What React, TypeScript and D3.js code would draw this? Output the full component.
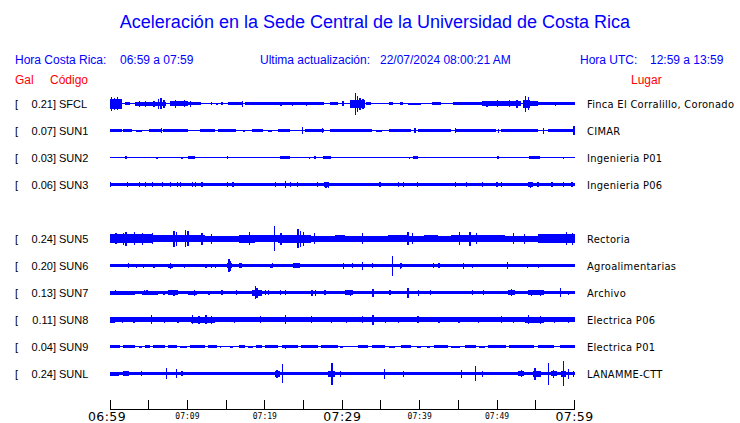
import React from "react";
import * as d3 from "d3";

const W = 740;
const H = 423;

const codes = ["SFCL", "SUN1", "SUN2", "SUN3", "SUN5", "SUN6", "SUN7", "SUN8", "SUN9", "SUNL"];
const gals = [0.21, 0.07, 0.03, 0.06, 0.24, 0.2, 0.13, 0.11, 0.04, 0.24];
const places = [
  "Finca El Corralillo, Coronado",
  "CIMAR",
  "Ingenieria P01",
  "Ingenieria P06",
  "Rectoria",
  "Agroalimentarias",
  "Archivo",
  "Electrica P06",
  "Electrica P01",
  "LANAMME-CTT",
];
const slots = [0, 1, 2, 3, 5, 6, 7, 8, 9, 10];

const tickMinutes = [0, 5, 10, 15, 20, 25, 30, 35, 40, 45, 50, 55, 60];
const tickLabels: Record<number, string> = {
  0: "06:59",
  10: "07:09",
  20: "07:19",
  30: "07:29",
  40: "07:39",
  50: "07:49",
  60: "07:59",
};
const bigTicks = [0, 30, 60];

// amplitude envelopes (relative units), minutes since 06:59
const baseAmp = [0.6, 0.6, 0.5, 1.5, 3.0, 1.5, 1.5, 2.2, 0.5, 1.6];

type Band = [number, number, number];
type Spike = [number, number];

const bandsSFCL: Band[] = [
  [0, 1.5, 5], [1.9, 2.6, 1.3], [3.2, 7.2, 2], [7.7, 10.1, 2.3], [10.1, 11.8, 1.3],
  [13.0, 13.2, 1.3], [13.7, 13.9, 1], [14.3, 14.6, 1.3], [15.3, 17.2, 1.6],
  [17.4, 27.7, 1.3], [28.4, 29.5, 1.3], [31.0, 33.0, 4], [33.1, 33.7, 1.3],
  [36.0, 36.6, 1.2], [37.4, 37.8, 1.2], [38.5, 40.2, 1.0], [41.6, 42.8, 1.3],
  [44.3, 48.0, 1.3], [48.0, 53.1, 2.3], [53.3, 54.2, 4], [54.2, 55.3, 2.5], [55.3, 60, 1.3],
];
const spikesSFCL: Spike[] = [
  [0.1, 7], [0.5, 6], [0.9, 6.5], [1.3, 5], [3.7, 3], [4.5, 3], [5.6, 3], [6.2, 5], [6.5, 5.5],
  [6.9, 4], [8.4, 4], [9.5, 3.5], [10.3, 3], [17.0, 3], [22, 2], [23.5, 2], [25.3, 2],
  [30.0, 2.5], [31.6, 11], [31.9, 8], [32.2, 6], [32.6, 5], [48.6, 3], [50.0, 3.5],
  [51.5, 3.5], [52.5, 4], [53.6, 8], [54.0, 6.5], [57.5, 2],
];

const bandsSUN1: Band[] = [
  [0, 1.5, 1.3], [1.7, 2.8, 1.3], [3.4, 4.1, 1.0], [5.0, 6.7, 1.3], [6.9, 10.1, 1.3],
  [11.6, 13.5, 1.3], [14.0, 16.3, 1.3], [17.2, 17.5, 1.0], [18.3, 19.8, 1.3], [20.4, 20.9, 1.0],
  [21.7, 23.2, 1.3], [25.2, 27.7, 1.3], [28.4, 33.8, 1.3], [34.4, 35.1, 1.0], [36.1, 38.9, 1.3],
  [39.8, 44.1, 1.3], [44.5, 49.9, 1.3], [50.5, 55.3, 1.3], [56.6, 59.8, 1.3],
];
const spikesSUN1: Spike[] = [
  [6.6, 2.7], [24.8, 3.3], [27.4, 2.7], [39.3, 2.7], [44.5, 2.3], [50.1, 2.0], [55.9, 3.0], [60, 4.3],
];

const bandsSUN2: Band[] = [
  [10.1, 11.0, 1.3], [21.9, 23.2, 1.3], [27.5, 28.6, 1.3], [39.1, 39.8, 1.3],
  [50.0, 50.3, 1.3], [54.1, 55.5, 1.3],
];
const spikesSUN2: Spike[] = [
  [2.0, 1.7], [6.0, 1], [7.1, 0.8], [7.6, 0.8], [9.2, 1], [14.5, 0.8], [15.1, 1.3], [20.6, 0.8],
  [21.3, 0.8], [22.6, 1.7], [25.7, 1], [26.4, 1.3], [29.5, 0.8], [34.8, 0.8], [38.1, 0.8],
  [38.6, 1], [43.2, 0.8], [46.9, 0.7], [48.4, 0.8], [52.7, 0.8], [56.2, 0.8], [57.2, 0.8],
  [58.5, 1], [59.6, 0.8],
];

const bandsSUN3: Band[] = [[27.7, 28.2, 2.5], [54.0, 54.6, 2.5]];
const spikesSUN3: Spike[] = [
  [0, 2.7], [2.2, 2.7], [3.7, 2.5], [4.5, 2.5], [5.4, 2.5], [6.7, 2.5], [7.7, 2.5], [8.6, 2.5],
  [9.0, 2.5], [10.6, 2.7], [11.0, 2.7], [11.8, 2.7], [15.1, 2.5], [15.8, 2.3], [21.3, 2.5],
  [22.6, 3.3], [23.2, 2.5], [24.1, 2.5], [26.7, 2.5], [27.8, 3], [28.1, 3], [34.8, 2.3],
  [37.2, 2.3], [37.8, 2.3], [39.6, 2.7], [44.5, 2.3], [46.0, 2.3], [48.0, 2.3], [49.9, 2.3],
  [50.5, 2.3], [54.2, 3], [55.2, 2.7], [57.0, 2.3], [58.5, 2.3], [59.6, 2.5],
];

const bandsSUN5: Band[] = [
  [0, 5.4, 4.2], [5.4, 7.9, 3.4], [7.9, 12.3, 3.9], [16.6, 18.7, 4.0], [18.7, 21.7, 3.7],
  [21.7, 26.0, 4.0], [29.0, 30.3, 3.5], [35.9, 38.5, 3.5], [40.6, 42.4, 3.5], [44.1, 51.0, 3.9],
  [55.3, 60, 4.2],
];
const spikesSUN5: Spike[] = [
  [0.7, 5.5], [1.7, 6], [2.0, 7], [3.1, 6.5], [4.1, 6], [5.4, 5.5], [8.2, 8], [8.5, 7], [9.7, 8.5],
  [10.0, 7.5], [11.8, 6], [13.0, 5], [17.9, 6.5], [21.2, 12.5], [22.0, 6], [24.2, 9.5], [24.5, 8],
  [24.9, 7], [26.3, 5.5], [32.5, 5.5], [38.4, 6.5], [39.0, 5.5], [45.1, 6.5], [46.4, 7], [47.3, 5.5],
  [52.0, 5.5], [53.5, 5], [58.9, 6.5], [59.7, 6],
];

const bandsSUN6: Band[] = [
  [7.5, 8.2, 2], [15.1, 15.7, 2.5], [16.6, 17.1, 2.2], [20.7, 21.1, 2], [23.7, 24.5, 2.2], [55.3, 60, 1.7],
];
const spikesSUN6: Spike[] = [
  [2.3, 2.3], [3.3, 2], [4.2, 2], [5.6, 2], [7.7, 3], [9.5, 2], [12.3, 2], [13.0, 2], [13.5, 2],
  [15.3, 6.5], [15.5, 5], [16.8, 2.7], [20.9, 2.3], [24.1, 2.7], [30.1, 3], [31.2, 2.5], [32.5, 4],
  [33.8, 2.5], [36.4, 10], [37.4, 3], [37.6, 2.5], [41.7, 2.3], [42.4, 2.3], [45.6, 3], [46.7, 2],
  [51.3, 3.3], [53.8, 2], [55.3, 2],
];

const bandsSUN7: Band[] = [
  [0, 3.2, 2.0], [4.1, 6.2, 2.0], [7.5, 8.8, 2.1], [10.1, 11.2, 2.0], [18.3, 19.6, 3.0],
  [20.0, 29.5, 1.9], [30.3, 31.4, 2.3], [36.0, 42.4, 1.9], [45.8, 48.4, 1.9], [51.4, 52.3, 2.1],
  [54.0, 56.0, 2.1],
];
const spikesSUN7: Spike[] = [
  [0.6, 2.3], [2.2, 2], [2.8, 2], [4.4, 2.5], [4.7, 2.3], [6.9, 2], [8.2, 3], [8.6, 2.5], [10.8, 3],
  [12.7, 2], [14.4, 2.2], [16.3, 2.5], [18.3, 2.5], [18.7, 6.5], [18.9, 5], [20.0, 2.5], [20.4, 2.5],
  [21.9, 2.5], [22.6, 2.5], [26.0, 3], [26.5, 3], [27.7, 2.5], [31.0, 3], [33.9, 4], [36.1, 2.5],
  [38.4, 5], [39.8, 3], [41.3, 2.5], [46.7, 2.5], [48.2, 2.5], [51.8, 3.5], [54.4, 3], [55.5, 3],
  [58.1, 4.5], [59.1, 2],
];

const bandsSUN8: Band[] = [
  [0, 0.6, 3], [10.5, 13.5, 3], [21.7, 23.0, 2.8], [53.6, 56.1, 3], [58.7, 60, 2.8],
];
const spikesSUN8: Spike[] = [
  [1.5, 3], [3.0, 3], [5.3, 4.3], [7.0, 3], [8.7, 3], [10.6, 4.7], [11.4, 4], [12.3, 4.2], [13.0, 4],
  [16.0, 3], [19.4, 3.3], [22.6, 4.5], [25.9, 3.5], [28.5, 3], [30.5, 3], [32.5, 3.5], [33.9, 5],
  [35.5, 3], [37.2, 3], [39.7, 3.5], [42.4, 3], [45.0, 3], [47.5, 3], [50.5, 3.5], [52.0, 3],
  [54.0, 4.5], [55.5, 4], [57.3, 3], [59.1, 3],
];

const bandsSUN9: Band[] = [
  [0, 1.3, 1.1], [1.7, 3.2, 1.1], [3.7, 4.1, 1.0], [4.5, 5.2, 1.1], [5.6, 7.1, 1.2], [7.5, 8.6, 1.1],
  [9.0, 9.9, 1.0], [10.3, 12.3, 1.2], [12.7, 13.8, 1.1], [14.2, 14.4, 1.0], [15.5, 15.9, 1.0],
  [16.6, 17.4, 1.1], [17.8, 18.5, 1.0], [18.9, 19.6, 1.1], [20.0, 21.7, 1.1], [22.2, 24.3, 1.3],
  [24.7, 26.9, 1.2], [27.3, 29.5, 1.1], [29.7, 30.1, 1.0], [32.0, 33.3, 1.1], [33.8, 35.5, 1.1],
  [36.1, 36.8, 1.0], [37.6, 38.9, 1.1], [39.6, 40.2, 1.0], [40.9, 41.3, 1.0], [41.9, 43.7, 1.1],
  [44.1, 45.2, 1.0], [45.8, 47.3, 1.1], [47.7, 48.4, 1.0], [48.8, 51.0, 1.2], [51.6, 54.8, 1.1],
  [55.3, 57.4, 1.1], [58.1, 60, 1.1],
];
const spikesSUN9: Spike[] = [[22.6, 2], [25.2, 1.5], [51.0, 1.5]];

const bandsSUNL: Band[] = [
  [0, 1.1, 2], [1.7, 2.4, 2.3], [21.3, 21.9, 3], [28.2, 29.0, 3], [52.7, 53.5, 2.5],
  [54.6, 55.7, 3], [56.9, 57.8, 2.5], [58.3, 58.9, 3],
];
const spikesSUNL: Spike[] = [
  [2.0, 2.3], [4.0, 2.7], [7.2, 5.3], [8.5, 4.5], [9.2, 2.7], [21.5, 4], [22.2, 9.7], [28.6, 11],
  [29.7, 3], [35.4, 5], [37.8, 3], [45.3, 4], [47.1, 7.5], [48.0, 3], [53.1, 3.3], [54.8, 6],
  [56.6, 11], [57.2, 4], [58.5, 12.3], [59.1, 5], [59.8, 3],
];

const allBands = [bandsSFCL, bandsSUN1, bandsSUN2, bandsSUN3, bandsSUN5, bandsSUN6, bandsSUN7, bandsSUN8, bandsSUN9, bandsSUNL];
const allSpikes = [spikesSFCL, spikesSUN1, spikesSUN2, spikesSUN3, spikesSUN5, spikesSUN6, spikesSUN7, spikesSUN8, spikesSUN9, spikesSUNL];

const BLUE = "#0000ff";
const RED = "#ff0000";

export default function App() {
  const x = d3.scaleLinear().domain([0, 60]).range([110, 574.5]);
  const yRow = d3.scaleLinear().domain([0, 10]).range([103.5, 373.5]);
  const amp = d3.scaleLinear().domain([0, 12]).range([0, 12]);
  const axisY = 409;

  return (
    <svg
      width={W}
      height={H}
      style={{ position: "absolute", left: 0, top: 0, background: "#fff" }}
    >
      <text x={375} y={28} textAnchor="middle" fontFamily="Liberation Sans" fontSize={18} fill={BLUE}>
        Aceleración en la Sede Central de la Universidad de Costa Rica
      </text>
      <g fontFamily="Liberation Sans" fontSize={12} fill={BLUE}>
        <text x={15} y={64}>Hora Costa Rica:</text>
        <text x={120} y={64}>06:59 a 07:59</text>
        <text x={260} y={64}>Ultima actualización:</text>
        <text x={380} y={64}>22/07/2024 08:00:21 AM</text>
        <text x={580} y={64}>Hora UTC:</text>
        <text x={650} y={64}>12:59 a 13:59</text>
      </g>
      <g fontFamily="Liberation Sans" fontSize={12} fill={RED}>
        <text x={15} y={84}>Gal</text>
        <text x={50} y={84}>Código</text>
        <text x={631} y={84}>Lugar</text>
      </g>

      {codes.map((c, i) => {
        const cy = yRow(slots[i]);
        return (
          <g key={c}>
            <g fontFamily="Liberation Sans" fontSize={11} fill="#000">
              <text x={15} y={cy + 4}>[</text>
              <text x={56} y={cy + 4} textAnchor="end">{gals[i].toFixed(2)}]</text>
              <text x={59} y={cy + 4}>{c}</text>
            </g>
            <text
              x={587}
              y={cy + 4}
              fontFamily="DejaVu Sans Condensed, DejaVu Sans"
              fontSize={11}
              letterSpacing={0.3}
              fill="#000"
            >
              {places[i]}
            </text>
            <g fill={BLUE} shapeRendering="crispEdges">
              <rect
                x={x(0)}
                width={x(60) - x(0)}
                y={cy - amp(baseAmp[i])}
                height={Math.max(1, 2 * amp(baseAmp[i]))}
              />
              {allBands[i].map((b, k) => (
                <rect
                  key={"b" + k}
                  x={x(b[0])}
                  width={Math.max(1, x(b[1]) - x(b[0]))}
                  y={cy - amp(b[2])}
                  height={2 * amp(b[2])}
                />
              ))}
              {allSpikes[i].map((s, k) => (
                <rect
                  key={"s" + k}
                  x={Math.min(x(s[0]), x(60) - 1.3)}
                  width={1.3}
                  y={cy - amp(s[1])}
                  height={2 * amp(s[1])}
                />
              ))}
            </g>
          </g>
        );
      })}

      <g stroke="#000" strokeWidth={1} shapeRendering="crispEdges">
        <line x1={x(0)} x2={x(60)} y1={axisY} y2={axisY} />
        {tickMinutes.map((m) => (
          <line key={m} x1={x(m)} x2={x(m)} y1={axisY - 9} y2={axisY} />
        ))}
      </g>
      {tickMinutes
        .filter((m) => tickLabels[m])
        .map((m) =>
          bigTicks.includes(m) ? (
            <text
              key={m}
              x={m === 0 ? x(m) - 3 : x(m)}
              y={421}
              textAnchor="middle"
              fontFamily="DejaVu Sans"
              fontSize={12.5}
              letterSpacing={0.4}
              fill="#000"
            >
              {tickLabels[m]}
            </text>
          ) : (
            <text
              key={m}
              x={x(m)}
              y={419}
              textAnchor="middle"
              fontFamily="DejaVu Sans Mono"
              fontSize={8}
              fill="#000"
            >
              {tickLabels[m]}
            </text>
          )
        )}
    </svg>
  );
}
